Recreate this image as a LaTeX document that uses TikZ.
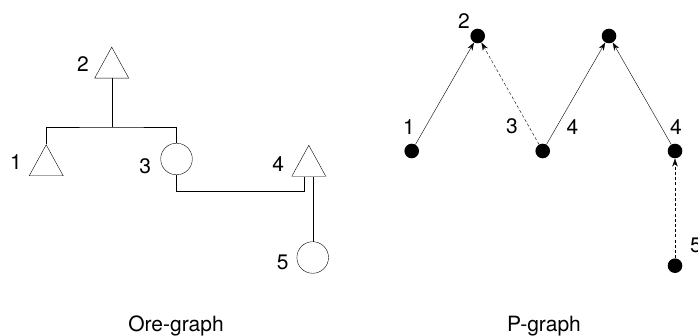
\documentclass[tikz,border=0pt]{standalone}
\usepackage{fontspec}
\setmainfont{TeX Gyre Heros}
\usetikzlibrary{shapes.geometric, arrows.meta}
\tikzset{
    >={Stealth[length=8pt, width=5.5pt]}, % arrow heads of the P-graph
    line width=1.2pt,
    every node/.style={font=\fontsize{21}{24}\selectfont, inner sep=0pt}, % digits and captions
    ore tri/.style={draw, isosceles triangle, isosceles triangle stretches, shape border rotate=90, minimum width=34pt, minimum height=31pt, anchor=south}, % triangle of the Ore-graph
    ore circ/.style={draw, circle, minimum size=31.6pt}, % circle of the Ore-graph
    dot/.style={circle, fill=black, minimum size=14.6pt}, % vertex of the P-graph
    dotted edge/.style={dash pattern=on 3pt off 2.2pt},
}
\begin{document}
\begin{tikzpicture}[x=1pt, y=1pt]
        \useasboundingbox (0,0) rectangle (698,335);

        % Ore-graph
        \node[ore tri] (T2) at (111.7,256.7) {};
        \node[ore tri] (T1) at (46.2,159) {};
        \node[ore circ] (C3) at (176.5,176) {};
        \node[ore tri] (T4) at (308.8,158.5) {};
        \node[ore circ] (C5) at (312.7,77.5) {};
        \coordinate (fork) at (111.7,208);

        \node at (83,270.8) {2};
        \node at (16,172.5) {1};
        \node at (145.3,169.2) {3};
        \node at (278.3,171.3) {4};
        \node at (282.7,72.3) {5};

        \draw (T2.south) -- (fork);
        \draw (T1.apex) |- (fork) -| (C3.north);
        \draw (C3.south) -- ++(0,-16) -| ([xshift=-4.8pt]T4.south);
        \draw (C5.north) -- (C5.north |- T4.south);

        % P-graph
        \node[dot] (P2) at (477.7,299) {};
        \node[dot] (Q2) at (609,299) {};
        \node[dot] (P1) at (411.7,184) {};
        \node[dot] (P3) at (542.7,184) {};
        \node[dot] (P4) at (675,184) {};
        \node[dot] (P5) at (675,69.3) {};

        \node at (464,314.3) {2};
        \node at (409,208.3) {1};
        \node at (512,208.3) {3};
        \node at (572.5,208.3) {4};
        \node at (676,208.3) {4};
        \node at (696,89.5) {5};

        \draw   (P1) edge[->] (P2)
                (P3) edge[->, dotted edge] (P2)
                     edge[->] (Q2)
                (P4) edge[->] (Q2)
                (P5) edge[->, dotted edge] (P4);

        % captions
        \node[anchor=base] (oreCap) at (176,3.3) {Ore-graph};
        \node[anchor=base] (pCap) at (544,3.3) {P-graph};
\end{tikzpicture}
\end{document}
